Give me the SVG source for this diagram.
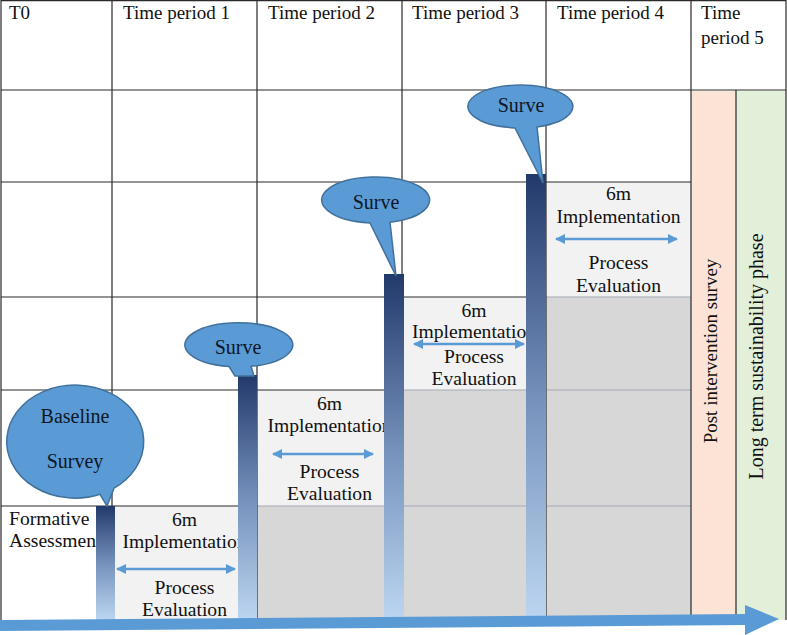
<svg xmlns="http://www.w3.org/2000/svg" width="787" height="635" viewBox="0 0 787 635" font-family="'Liberation Serif', 'Times New Roman', serif">
<defs>
<style>
text{font-family:"Liberation Serif","Times New Roman",serif;fill:#111}
.t{font-size:19px}
.c{font-size:19.6px;text-anchor:middle}
.s{font-size:20px;text-anchor:middle;fill:#0e1726}
.g{stroke:#2a2a2a;stroke-width:1.2;fill:none}
.gl{stroke:#a3a9b3;stroke-width:1;fill:none}
.light{fill:#f2f2f2}
.dark{fill:#d7d7d7}
.bar{fill:url(#barGrad)}
.bub{fill:#5b9bd5;stroke:#41719c;stroke-width:1.5}
.dbl{stroke:#5b9bd5;stroke-width:2.5;fill:none;marker-start:url(#ah);marker-end:url(#ah)}
</style>
<linearGradient id="barGrad" x1="0" y1="0" x2="0" y2="1">
<stop offset="0" stop-color="#22396b"/>
<stop offset="0.5" stop-color="#7590bb"/>
<stop offset="1" stop-color="#bcd6f1"/>
</linearGradient>
<marker id="ah" viewBox="0 0 10 10" refX="9" refY="5" markerWidth="4" markerHeight="4" orient="auto-start-reverse" markerUnits="strokeWidth"><path d="M0,0 L10,5 L0,10 Z" fill="#5b9bd5"/></marker>
</defs>
<rect width="787" height="635" fill="#fff"/>
<g id="cells">
<rect class="light" x="112" y="506" width="145" height="114"/>
<rect class="light" x="257" y="390" width="145" height="116"/>
<rect class="light" x="402" y="297" width="144" height="93"/>
<rect class="light" x="546" y="182" width="145" height="115"/>
<rect class="dark" x="257" y="506" width="434" height="114"/>
<rect class="dark" x="402" y="390" width="289" height="116"/>
<rect class="dark" x="546" y="297" width="145" height="93"/>
</g>
<g id="strips">
<rect x="691" y="91" width="45" height="529" fill="#fbe4d5"/>
<rect x="736" y="91" width="50" height="529" fill="#e2efd9"/>
</g>
<g id="grid">
<path class="gl" d="M546,297H691M402,390H691M257,506H691"/>
<path class="g" d="M1,0.6H786M1,90H786M1,182H691M1,297H546M1,390H402M1,506H257"/>
<path class="g" d="M1,0V620M112,0V620M257,0V620M402,0V620M546,0V620M691,0V620M736,90V620M786,0V620"/>
</g>
<g id="header">
<text class="t" x="9" y="19">T0</text>
<text class="t" x="123" y="19">Time period 1</text>
<text class="t" x="268" y="19">Time period 2</text>
<text class="t" x="412" y="19">Time period 3</text>
<text class="t" x="557" y="19">Time period 4</text>
<text class="t" x="701" y="19">Time</text>
<text class="t" x="701" y="44">period 5</text>
</g>
<g id="formative">
<text x="9" y="525" font-size="19.6">Formative</text>
<text x="9" y="547" font-size="19.6">Assessment</text>
</g>
<g id="impl1">
<text class="c" x="184.5" y="526">6m</text>
<text class="c" x="184.5" y="548">Implementation</text>
<text class="c" x="184.5" y="594">Process</text>
<text class="c" x="184.5" y="616">Evaluation</text>
</g>
<g id="impl2">
<text class="c" x="329.5" y="410">6m</text>
<text class="c" x="329.5" y="432">Implementation</text>
<text class="c" x="329.5" y="478">Process</text>
<text class="c" x="329.5" y="500">Evaluation</text>
</g>
<g id="impl3">
<text class="c" x="474" y="317">6m</text>
<text class="c" x="474" y="338">Implementation</text>
<text class="c" x="474" y="363">Process</text>
<text class="c" x="474" y="385">Evaluation</text>
</g>
<g id="impl4">
<text class="c" x="618.5" y="200">6m</text>
<text class="c" x="618.5" y="223">Implementation</text>
<text class="c" x="618.5" y="269">Process</text>
<text class="c" x="618.5" y="292">Evaluation</text>
</g>
<g id="post">
<text class="t" transform="translate(717,351) rotate(-90)" text-anchor="middle">Post intervention survey</text>
</g>
<g id="longterm">
<text transform="translate(763,356.5) rotate(-90)" text-anchor="middle" font-size="20">Long term sustainability phase</text>
</g>
<g id="bars">
<rect class="bar" x="96" y="506" width="19" height="114"/>
<rect class="bar" x="238" y="375" width="19" height="245"/>
<rect class="bar" x="384" y="274" width="20" height="346"/>
<rect class="bar" x="526" y="174" width="20" height="446"/>
</g>
<g id="baseline">
<path class="bub" d="M100,494.3 A68.5,56.5 0 1 1 114,488.2 L107,506 Z"/>
<text class="s" x="75" y="423">Baseline</text>
<text class="s" x="75" y="468">Survey</text>
</g>
<g id="survey1">
<path class="bub" d="M229,366.5 A54,22 0 1 1 251,366.3 L254,376 L235,376 Z"/>
<text class="s" x="238" y="354">Surve</text>
</g>
<g id="survey2">
<path class="bub" d="M370,222.9 A54,23 0 1 1 390,222.2 L396,276 Z"/>
<text class="s" x="376" y="209">Surve</text>
</g>
<g id="survey3">
<path class="bub" d="M515,127.9 A52.5,21.5 0 1 1 537,126.9 L543,183 Z"/>
<text class="s" x="521" y="112">Surve</text>
</g>
<g id="connectors">
<line class="dbl" x1="117" y1="569" x2="235" y2="569"/>
<line class="dbl" x1="273" y1="454" x2="373" y2="454"/>
<line class="dbl" x1="414" y1="344" x2="524" y2="344"/>
<line class="dbl" x1="556" y1="239" x2="677" y2="239"/>
<polygon points="0,620 745,614 745,605 779,619 745,635 745,625 0,631" fill="#5b9bd5"/>
</g>
</svg>
